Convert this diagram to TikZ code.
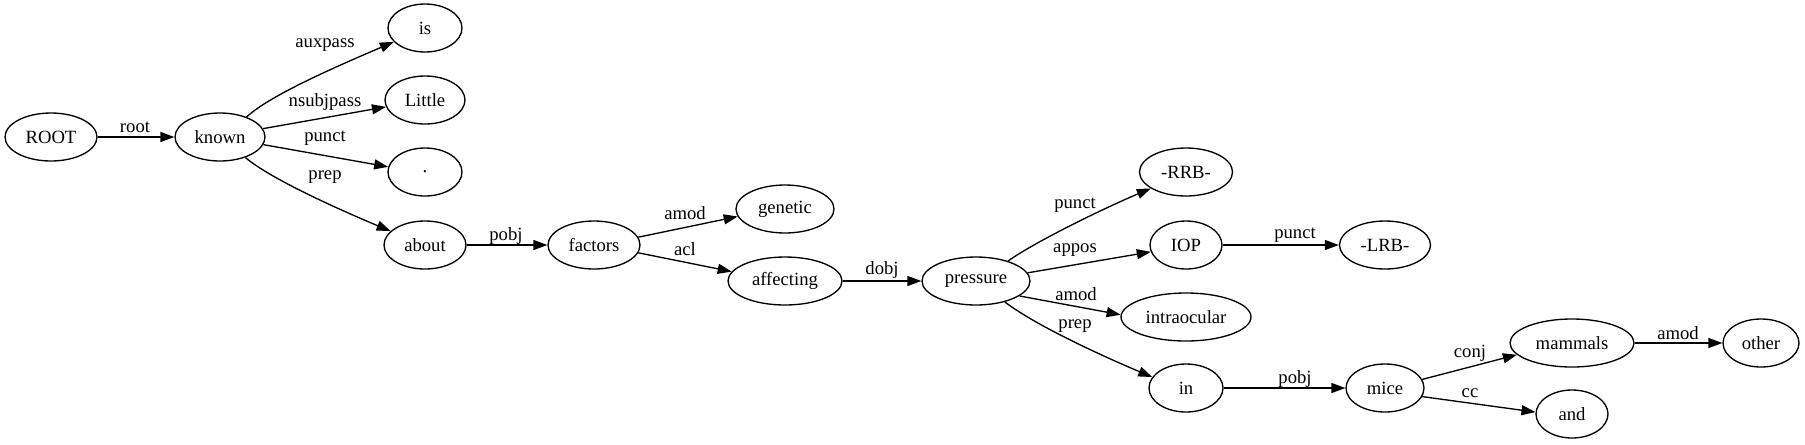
\documentclass[tikz,border=0pt]{standalone}
\usepackage{fontspec}
\setmainfont{Liberation Serif}
\usetikzlibrary{shapes.geometric,arrows.meta}
\begin{document}
\begin{tikzpicture}[x=0.75pt,y=-0.75pt,
  nd/.style={ellipse,draw,line width=1pt,inner sep=0pt,minimum height=36pt,minimum width={#1*0.75pt},font=\fontsize{14}{16}\selectfont},
  lbl/.style={inner sep=0pt,font=\fontsize{14}{16}\selectfont},
  dep/.style={line width=1pt,-{Triangle[length=10.5pt,width=7.5pt]}}]
\useasboundingbox (0,0) rectangle (1805,444);
% nodes
\node[nd=92]  (ROOT)     at (51,137)   {ROOT};
\node[nd=90]  (known)    at (220,137)  {known};
\node[nd=74]  (is)       at (425,28)   {is};
\node[nd=80]  (little)   at (425,100)  {Little};
\node[nd=74]  (dot)      at (425,172)  {.};
\node[nd=82]  (about)    at (425,245)  {about};
\node[nd=92]  (factors)  at (594,245)  {factors};
\node[nd=98]  (genetic)  at (785,209)  {genetic};
\node[nd=114] (affecting) at (785,281) {affecting};
\node[nd=108] (pressure) at (976,281)  {pressure};
\node[nd=93]  (rrb)      at (1186,172) {-RRB-};
\node[nd=72]  (iop)      at (1186,245) {IOP};
\node[nd=130] (intra)    at (1186,317) {intraocular};
\node[nd=74]  (in)       at (1186,388) {in};
\node[nd=91]  (lrb)      at (1385,245) {-LRB-};
\node[nd=78]  (mice)     at (1385,388) {mice};
\node[nd=124] (mammals)  at (1572,343) {mammals};
\node[nd=76]  (other)    at (1761,343) {other};
\node[nd=72]  (and)      at (1572,414) {and};
% edges
\draw[dep] (ROOT) -- (known);
\draw[dep] (known.37) .. controls (270,95) and (340,65) .. (is.204);
\draw[dep] (known.11) -- (little.190);
\draw[dep] (known.-10) -- (dot.172);
\draw[dep] (known.-39) .. controls (272,180) and (345,212) .. (about.158);
\draw[dep] (about) -- (factors);
\draw[dep] (factors.10.5) -- (genetic.189);
\draw[dep] (factors.-10.5) -- (affecting.170);
\draw[dep] (affecting) -- (pressure);
\draw[dep] (pressure.32) .. controls (1035,242) and (1100,210) .. (rrb.205);
\draw[dep] (pressure.9) -- (iop.191);
\draw[dep] (pressure.-19) -- (intra.178);
\draw[dep] (pressure.-36) .. controls (1035,325) and (1100,355) .. (in.162);
\draw[dep] (iop) -- (lrb);
\draw[dep] (in) -- (mice);
\draw[dep] (mice.13) -- (mammals.192);
\draw[dep] (mice.-13) -- (and.177);
\draw[dep] (mammals) -- (other);
% labels
\node[lbl] (l1)  at (135,127)  {root};
\node[lbl] (l2)  at (325,45)   {auxpass};
\node[lbl] (l3)  at (325,102)  {nsubjpass};
\node[lbl] (l4)  at (325,138)  {punct};
\node[lbl] (l5)  at (325,177)  {prep};
\node[lbl] (l6)  at (506,236)  {pobj};
\node[lbl] (l7)  at (685,213)  {amod};
\node[lbl] (l8)  at (685,249)  {acl};
\node[lbl] (l9)  at (882,270)  {dobj};
\node[lbl] (l10) at (1075,205) {punct};
\node[lbl] (l11) at (1075,250) {appos};
\node[lbl] (l12) at (1076,294) {amod};
\node[lbl] (l13) at (1075,326) {prep};
\node[lbl] (l14) at (1295,379) {pobj};
\node[lbl] (l15) at (1295,235) {punct};
\node[lbl] (l16) at (1470,353) {conj};
\node[lbl] (l17) at (1470,393) {cc};
\node[lbl] (l18) at (1678,333) {amod};
\end{tikzpicture}
\end{document}
